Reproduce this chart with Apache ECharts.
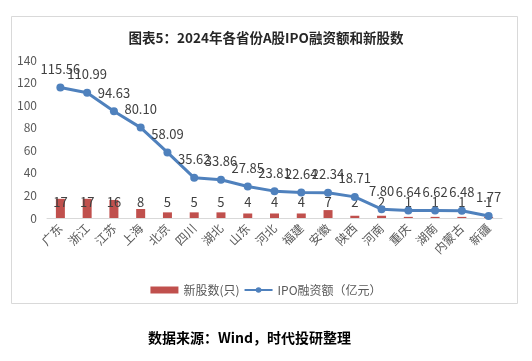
<!DOCTYPE html>
<html><head><meta charset="utf-8">
<script src="https://cdn.jsdelivr.net/npm/echarts@6/dist/echarts.min.js"></script>
<style>html,body{margin:0;padding:0;background:#fff}#c{width:532px;height:361px}</style>
</head><body><div id="c"></div>
<script>
const categories = ['广东','浙江','江苏','上海','北京','四川','湖北','山东','河北','福建','安徽','陕西','河南','重庆','湖南','内蒙古','新疆'];
const newStocks = [17,17,16,8,5,5,5,4,4,4,7,2,2,1,1,1,1];
const ipoAmount = [115.56,110.99,94.63,80.10,58.09,35.62,33.86,27.85,23.81,22.64,22.34,18.71,7.80,6.64,6.62,6.48,1.77];
const yTicks = [0,20,40,60,80,100,120,140];

const chart = echarts.init(document.getElementById('c'), null, {renderer:'canvas'});
const font = '"Noto Sans CJK SC", "Microsoft YaHei", sans-serif';
chart.setOption({
  animation:false,
  backgroundColor:'#fff',
  title:{
    text:'图表5：2024年各省份A股IPO融资额和新股数',
    left:'center', top:26,
    textStyle:{fontFamily:font, fontSize:13.5, fontWeight:'bold', color:'#262626'}
  },
  graphic:[
    {type:'rect', shape:{x:11.5,y:16.5,width:506,height:287}, style:{fill:null, stroke:'#d9d9d9', lineWidth:1}, z:-1},
    {type:'text', left:148, top:331, style:{text:'数据来源：Wind，时代投研整理', fontFamily:font, fontSize:14, fontWeight:'bold', fill:'#000'}}
  ],
  legend:{
    top:279, left:'center',
    itemWidth:28, itemHeight:7, itemGap:4,
    textStyle:{fontFamily:font, fontSize:12, color:'#595959'},
    data:[{name:'新股数(只)', icon:'rect'}, {name:'IPO融资额（亿元）'}]
  },
  grid:{left:47, right:30, top:60, bottom:143},
  xAxis:{
    type:'category', data:categories,
    axisLine:{lineStyle:{color:'#d9d9d9'}},
    axisTick:{show:false},
    axisLabel:{rotate:45, fontFamily:font, fontSize:12, color:'#595959', margin:8, interval:0}
  },
  yAxis:{
    type:'value', min:yTicks[0], max:yTicks[yTicks.length-1], interval:20,
    axisLine:{show:false}, axisTick:{show:false},
    splitLine:{show:false},
    axisLabel:{fontFamily:font, fontSize:12, color:'#595959', margin:10}
  },
  series:[
    {
      name:'新股数(只)', type:'bar', data:newStocks, barWidth:9,
      itemStyle:{color:'#C0504D'},
      label:{show:true, position:'insideBottom', distance:9, fontFamily:font, fontSize:13, color:'#404040'}
    },
    {
      name:'IPO融资额（亿元）', type:'line', data:ipoAmount,
      symbol:'circle', symbolSize:8,
      lineStyle:{color:'#4F81BD', width:3},
      itemStyle:{color:'#4F81BD'},
      label:{show:true, position:'top', distance:8, fontFamily:font, fontSize:13, color:'#404040',
        formatter:p=>p.value.toFixed(2)},
      z:3
    }
  ]
});
</script></body></html>
